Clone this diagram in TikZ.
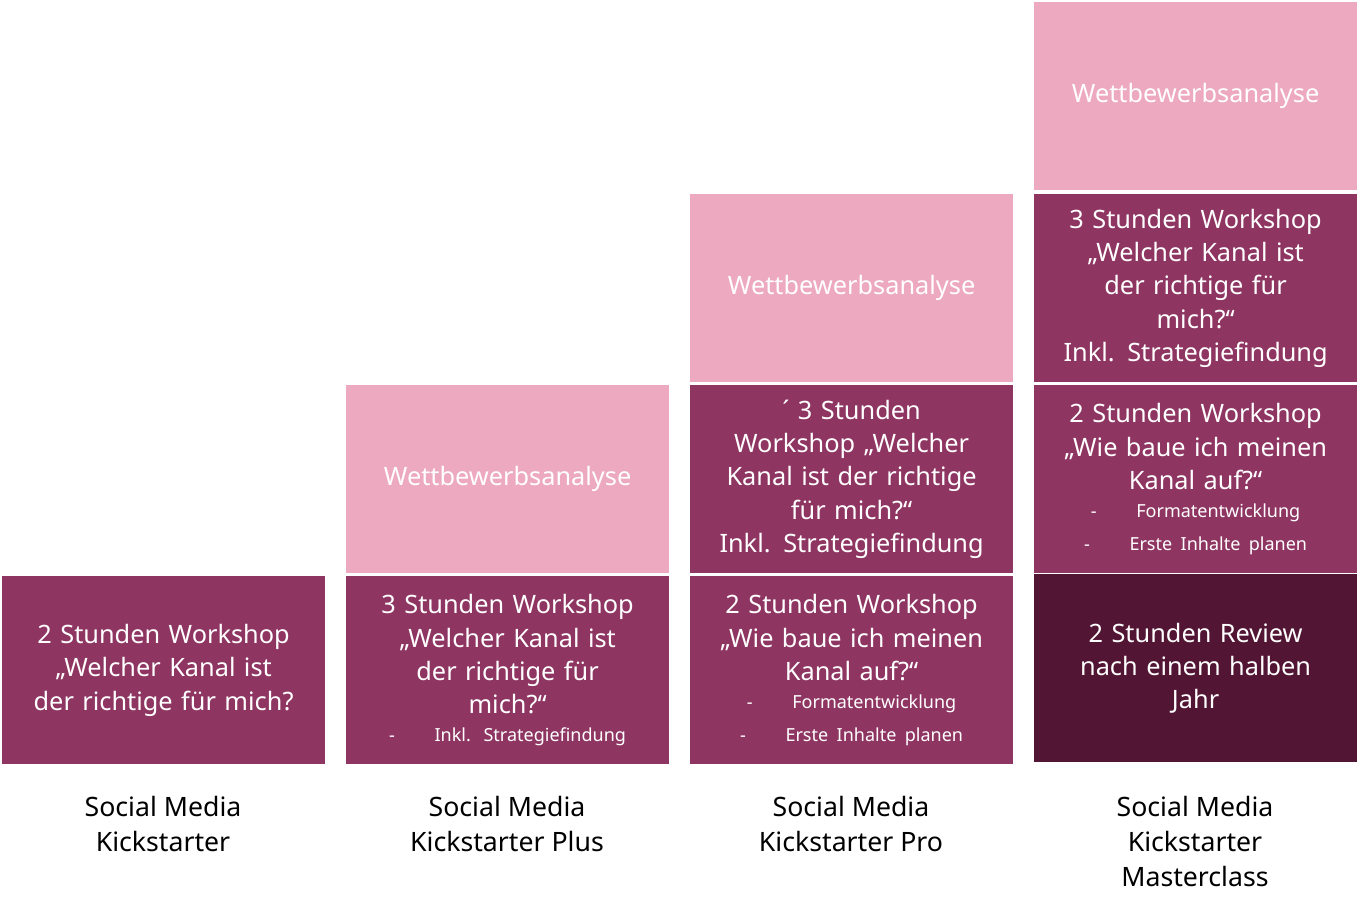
\documentclass[tikz,border=0pt]{standalone}
\usepackage{fontspec}
\setmainfont{Noto Sans}
\definecolor{berry}{HTML}{8E3562}
\definecolor{rosa}{HTML}{EDA9C0}
\definecolor{wine}{HTML}{521534}
\tikzset{
  tile/.style={anchor=north west, inner sep=0pt, minimum width=242pt, minimum height=141pt,
    text width=230pt, align=center, text=white, font=\fontsize{19}{25}\selectfont},
  label/.style={anchor=north, align=center, font=\fontsize{20}{26}\selectfont}
}
\newcommand{\bul}[1]{{\fontsize{13.5}{18}\selectfont -\hspace{2.2em}#1}}
\begin{document}
\begin{tikzpicture}[x=0.75pt,y=-0.75pt]
    \useasboundingbox (0,0) rectangle (1365,908);
    % Kickstarter
    \node[tile, fill=berry] (ks1) at (2,576) {2 Stunden Workshop\\„Welcher Kanal ist\\der richtige für mich?};
    % Kickstarter Plus
    \node[tile, fill=berry] (kp1) at (346,576) {3 Stunden Workshop\\„Welcher Kanal ist\\der richtige für\\mich?“\\[-4pt]\bul{Inkl. Strategiefindung}};
    \node[tile, fill=rosa] (kp2) at (346,385) {Wettbewerbsanalyse};
    % Kickstarter Pro
    \node[tile, fill=berry] (pr1) at (690,576) {2 Stunden Workshop\\„Wie baue ich meinen\\Kanal auf?“\\[-4pt]\bul{Formatentwicklung}\\\bul{Erste Inhalte planen}};
    \node[tile, fill=berry] (pr2) at (690,385) {´ 3 Stunden\\Workshop „Welcher\\Kanal ist der richtige\\für mich?“\\Inkl. Strategiefindung};
    \node[tile, fill=rosa] (pr3) at (690,194) {Wettbewerbsanalyse};
    % Kickstarter Masterclass
    \node[tile, fill=wine] (mc1) at (1034,574) {2 Stunden Review\\nach einem halben\\Jahr};
    \node[tile, fill=berry] (mc2) at (1034,385) {2 Stunden Workshop\\„Wie baue ich meinen\\Kanal auf?“\\[-4pt]\bul{Formatentwicklung}\\\bul{Erste Inhalte planen}};
    \node[tile, fill=berry] (mc3) at (1034,194) {3 Stunden Workshop\\„Welcher Kanal ist\\der richtige für\\mich?“\\Inkl. Strategiefindung};
    \node[tile, fill=rosa] (mc4) at (1034,2) {Wettbewerbsanalyse};
    % Labels
    \node[label] (l1) at (163,792) {Social Media\\Kickstarter};
    \node[label] (l2) at (507,792) {Social Media\\Kickstarter Plus};
    \node[label] (l3) at (851,792) {Social Media\\Kickstarter Pro};
    \node[label] (l4) at (1195,792) {Social Media\\Kickstarter\\Masterclass};
\end{tikzpicture}
\end{document}
